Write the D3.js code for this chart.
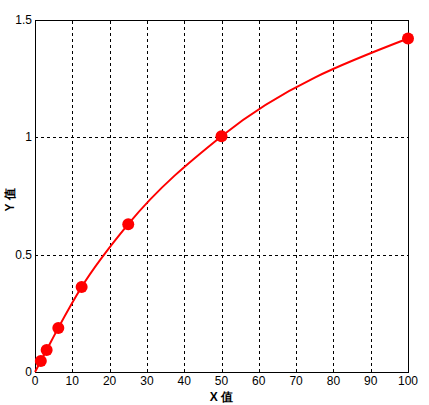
<!DOCTYPE html>
<html>
<head>
<meta charset="utf-8">
<script src="https://cdn.jsdelivr.net/npm/d3@7"></script>
<style>
  body { margin: 0; background: #fff; }
  text { font-family: "Liberation Sans", Arial, sans-serif; }
</style>
</head>
<body>
<svg></svg>
<script>
// Size of the figure
var width = 429;
var height = 405;
var margin = {top: 20, right: 21, bottom: 33, left: 35};

// data
var xValues = [1.5625, 3.125, 6.25, 12.5, 25, 50, 100];
var yValues = [0.047, 0.094, 0.188, 0.362, 0.63, 1.005, 1.421];
var xTicks = [0, 10, 20, 30, 40, 50, 60, 70, 80, 90, 100];
var yTicks = [0, 0.5, 1, 1.5];
var xLabel = "X 值";
var yLabel = "Y 值";

var svg = d3.select("svg")
    .attr("width", width)
    .attr("height", height);

var x = d3.scaleLinear()
    .domain([0, 100])
    .range([margin.left, width - margin.right]);

var y = d3.scaleLinear()
    .domain([0, 1.5])
    .range([height - margin.bottom, margin.top]);

// grid lines
svg.append("g")
    .selectAll("line")
    .data(xTicks.slice(1, -1))
    .enter().append("line")
    .attr("x1", function(d) { return Math.round(x(d)) + 0.5; })
    .attr("x2", function(d) { return Math.round(x(d)) + 0.5; })
    .attr("y1", y(0))
    .attr("y2", y(1.5))
    .style("stroke", "#000")
    .style("stroke-width", 1)
    .style("stroke-dasharray", "3,3");

svg.append("g")
    .selectAll("line")
    .data(yTicks.slice(1, -1))
    .enter().append("line")
    .attr("y1", function(d) { return Math.round(y(d)) + 0.5; })
    .attr("y2", function(d) { return Math.round(y(d)) + 0.5; })
    .attr("x1", x(0))
    .attr("x2", x(100))
    .style("stroke", "#000")
    .style("stroke-width", 1)
    .style("stroke-dasharray", "3,3");

// box round the axes
svg.append("rect")
    .attr("x", Math.round(x(0)) + 0.5)
    .attr("y", Math.round(y(1.5)) + 0.5)
    .attr("width", Math.round(x(100)) - Math.round(x(0)))
    .attr("height", Math.round(y(0)) - Math.round(y(1.5)))
    .style("fill", "none")
    .style("stroke", "#000")
    .style("stroke-width", 1);

// tick labels
svg.append("g")
    .selectAll("text")
    .data(xTicks)
    .enter().append("text")
    .attr("x", function(d) { return x(d); })
    .attr("y", y(0) + 13)
    .attr("text-anchor", "middle")
    .style("font-size", "12px")
    .text(function(d) { return d; });

svg.append("g")
    .selectAll("text")
    .data(yTicks)
    .enter().append("text")
    .attr("x", x(0) - 3)
    .attr("y", function(d) { return y(d) + 4; })
    .attr("text-anchor", "end")
    .style("font-size", "12px")
    .text(function(d) { return d; });

// axis labels
svg.append("text")
    .attr("x", x(50))
    .attr("y", height - 4)
    .attr("text-anchor", "middle")
    .attr("font-weight", "bold")
    .style("font-size", "12px")
    .text(xLabel);

svg.append("text")
    .attr("transform", "translate(14," + (y(0.75) + 4) + ") rotate(-90)")
    .attr("text-anchor", "middle")
    .attr("font-weight", "bold")
    .style("font-size", "12px")
    .text(yLabel);

// curve, starting from the origin
var lineData = [[0, 0]].concat(xValues.map(function(d, i) { return [d, yValues[i]]; }));

var line = d3.line()
    .x(function(d) { return x(d[0]); })
    .y(function(d) { return y(d[1]); })
    .curve(d3.curveMonotoneX);

svg.append("path")
    .datum(lineData)
    .attr("d", line)
    .style("fill", "none")
    .style("stroke", "#ff0000")
    .style("stroke-width", 2);

svg.append("g")
    .selectAll("circle")
    .data(xValues)
    .enter().append("circle")
    .attr("cx", function(d) { return x(d); })
    .attr("cy", function(d, i) { return y(yValues[i]); })
    .attr("r", 6)
    .style("fill", "#ff0000");
</script>
</body>
</html>
